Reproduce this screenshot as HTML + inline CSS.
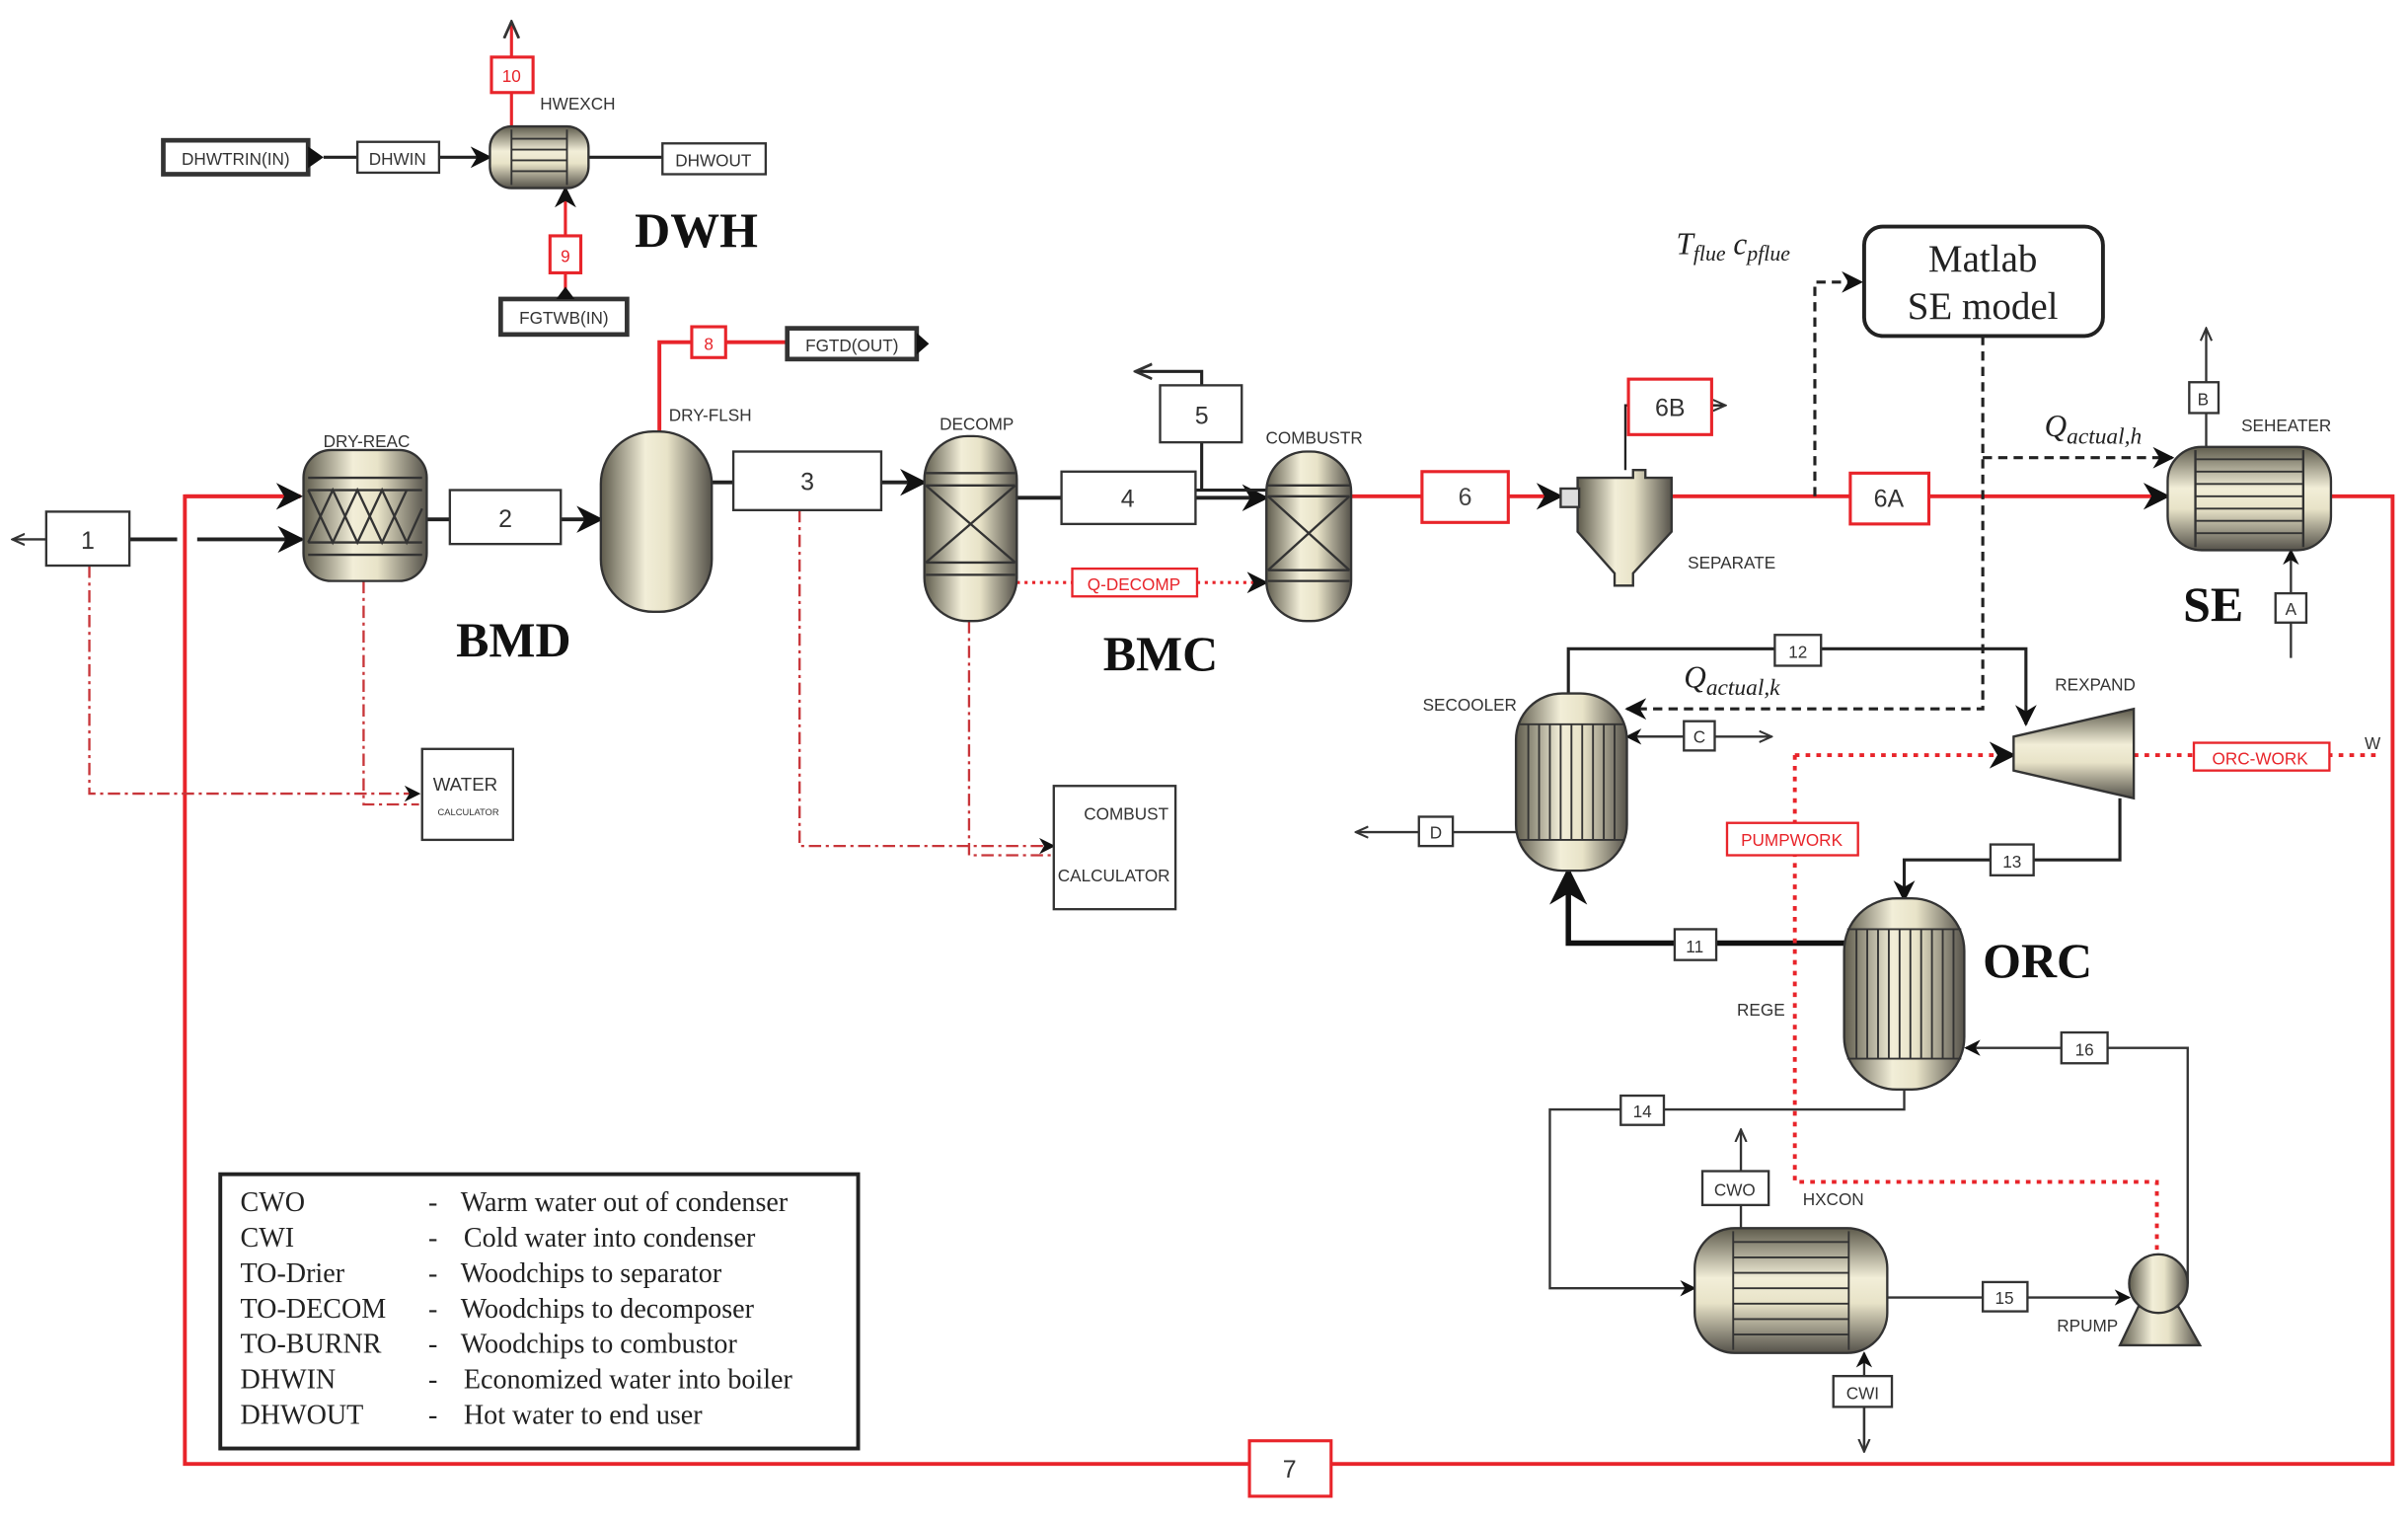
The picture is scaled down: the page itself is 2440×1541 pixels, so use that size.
<!DOCTYPE html>
<html><head><meta charset="utf-8"><style>
html,body{margin:0;padding:0;background:#fff;}
svg{display:block}
text{font-family:"Liberation Sans",sans-serif;}
.s, .s text{font-family:"Liberation Serif",serif;}
</style></head><body>
<svg width="2440" height="1541" viewBox="0 0 1563 987" xmlns="http://www.w3.org/2000/svg">
<defs>
<linearGradient id="gh" x1="0" x2="1" y1="0" y2="0"><stop offset="0" stop-color="#5e5b4c"/><stop offset="0.4" stop-color="#f2eed8"/><stop offset="0.6" stop-color="#e8e3c8"/><stop offset="1" stop-color="#55524a"/></linearGradient>
<linearGradient id="gv" x1="0" x2="0" y1="0" y2="1"><stop offset="0" stop-color="#5e5b4c"/><stop offset="0.4" stop-color="#f2eed8"/><stop offset="0.6" stop-color="#e8e3c8"/><stop offset="1" stop-color="#55524a"/></linearGradient>
<marker id="a" viewBox="0 0 10 10" refX="9" refY="5" markerWidth="7" markerHeight="7" orient="auto"><path d="M0,0L10,5L0,10L3,5z" fill="#111"/></marker>
<marker id="o" viewBox="0 0 10 10" refX="9" refY="5" markerWidth="6" markerHeight="6" orient="auto"><path d="M0,1L9,5L0,9" fill="none" stroke="#333" stroke-width="1.5"/></marker>
</defs>
<g fill="none" stroke-width="2">
<path d="M195,322H120V950H1553V322H1513" stroke="#e8242a" stroke-width="2.5"/>
<path d="M120,322H195" stroke="#e8242a" stroke-width="2.5" marker-end="url(#a)"/>
<path d="M877,322H1013" stroke="#e8242a" stroke-width="2.5" marker-end="url(#a)"/>
<path d="M1085,322H1407" stroke="#e8242a" stroke-width="2.5" marker-end="url(#a)"/>
<path d="M30,350H8" stroke="#333" stroke-width="1.5" marker-end="url(#o)"/>
<path d="M84,350H115M128,350H196" stroke="#222" stroke-width="2.5" marker-end="url(#a)"/>
<path d="M277,337H390" stroke="#222" stroke-width="2.5" marker-end="url(#a)"/>
<path d="M462,313H600" stroke="#222" stroke-width="2.5" marker-end="url(#a)"/>
<path d="M660,323H822" stroke="#222" stroke-width="2.5" marker-end="url(#a)"/>
<path d="M776,318H822M780,318V241H737" stroke="#222" stroke-width="2" marker-end="url(#o)"/>
<path d="M428,282V222H511" stroke="#e8242a" stroke-width="2.5"/>
<path d="M660,378H696M777,378H822" stroke="#e8242a" stroke-width="2" stroke-dasharray="2,3" marker-end="url(#a)"/>
<g stroke="#c8363a" stroke-width="1.5" stroke-dasharray="8,3,2,3">
<path d="M58,367V515H272" marker-end="url(#a)"/>
<path d="M236,377V522H272"/>
<path d="M519,331V549H684" marker-end="url(#a)"/>
<path d="M629,403V555H684"/>
</g>
<path d="M1055,305V263H1057M1111,263H1120" stroke="#222" stroke-width="1.5" marker-end="url(#o)"/>
<g stroke="#222" stroke-width="2" stroke-dasharray="6,4">
<path d="M1178,322V183H1208" marker-end="url(#a)"/>
<path d="M1287,218V460H1056" marker-end="url(#a)"/>
<path d="M1287,297H1410" marker-end="url(#a)"/>
</g>
<path d="M1432,290V213" stroke="#333" stroke-width="1.5" marker-end="url(#o)"/>
<path d="M1487,427V357" stroke="#333" stroke-width="1.5" marker-end="url(#a)"/>
<path d="M1018,452V421H1315V470" stroke="#222" stroke-width="2" marker-end="url(#a)"/>
<path d="M1056,478H1150" stroke="#333" stroke-width="1.5" marker-end="url(#o)"/>
<path d="M1093,478H1056" stroke="#333" stroke-width="1.5" marker-end="url(#a)"/>
<path d="M984,540H880" stroke="#333" stroke-width="1.5" marker-end="url(#o)"/>
<path d="M1376,518V558H1236V584" stroke="#222" stroke-width="2" marker-end="url(#a)"/>
<path d="M1197,612H1018V565" stroke="#111" stroke-width="3.5" marker-end="url(#a)"/>
<path d="M1420,833V680H1276" stroke="#333" stroke-width="1.5" marker-end="url(#a)"/>
<path d="M1236,707V720H1006V836H1100" stroke="#333" stroke-width="1.5" marker-end="url(#a)"/>
<path d="M1130,797V733" stroke="#333" stroke-width="1.5" marker-end="url(#o)"/>
<path d="M1210,942V878" stroke="#333" stroke-width="1.5" marker-end="url(#a)"/>
<path d="M1210,913V942" stroke="#333" stroke-width="1.5" marker-end="url(#o)"/>
<path d="M1225,842H1382" stroke="#333" stroke-width="1.5" marker-end="url(#a)"/>
<g stroke="#e8242a" stroke-width="2.5" stroke-dasharray="3,4">
<path d="M1165,490H1307" marker-end="url(#a)"/>
<path d="M1385,490H1545"/>
<path d="M1165,490V767H1400V815"/>
</g>
<path d="M210,102H232M285,102H318" stroke="#222" stroke-width="2" marker-end="url(#a)"/>
<path d="M382,102H430" stroke="#222" stroke-width="2"/>
<path d="M332,82V14" stroke="#e8242a" stroke-width="2" marker-end="url(#o)"/>
<path d="M367,190V122" stroke="#e8242a" stroke-width="2" marker-end="url(#a)"/>
</g>

<g stroke="#333" stroke-width="1.5">
<rect x="197" y="292" width="80" height="85" rx="18" fill="url(#gh)"/>
<path d="M200,310H274M200,318H274M200,352H274M200,360H274" fill="none"/>
<path d="M200,318L216,352L232,318L248,352L264,318M200,352L216,318L232,352L248,318L264,352L274,330" fill="none"/>
<rect x="390" y="280" width="72" height="117" rx="34" fill="url(#gh)"/>
<rect x="600" y="283" width="60" height="120" rx="28" fill="url(#gh)"/>
<path d="M601,307H659M601,315H659M601,365H659M601,373H659M601,315L659,365M659,315L601,365" fill="none"/>
<rect x="822" y="293" width="55" height="110" rx="26" fill="url(#gh)"/>
<path d="M823,315H876M823,322H876M823,370H876M823,377H876M823,322L876,370M876,322L823,370" fill="none"/>
<path d="M1024,310H1060V305H1068V310H1085V345L1060,372V380H1048V372L1024,345Z" fill="url(#gh)"/>
<rect x="1013" y="317" width="12" height="12" fill="#ddd"/>
<rect x="1407" y="290" width="106" height="67" rx="22" fill="url(#gv)"/>
<path d="M1425,292V355M1495,292V355" fill="none"/>
<path d="M1425,298H1495M1425,306H1495M1425,314H1495M1425,322H1495M1425,330H1495M1425,338H1495M1425,346H1495" fill="none" stroke-width="1.2"/>
<rect x="318" y="82" width="64" height="40" rx="14" fill="url(#gv)"/>
<path d="M332,84V120M368,84V120M332,90H368M332,97H368M332,104H368M332,111H368" fill="none" stroke-width="1.2"/>
<rect x="984" y="450" width="72" height="115" rx="30" fill="url(#gh)"/>
<path d="M986,470H1054M986,545H1054M992,470V545M999,470V545M1006,470V545M1013,470V545M1020,470V545M1027,470V545M1034,470V545M1041,470V545M1048,470V545" fill="none" stroke-width="1.2"/>
<rect x="1197" y="583" width="78" height="124" rx="34" fill="url(#gh)"/>
<path d="M1199,603H1273M1199,687H1273M1205,603V687M1212,603V687M1219,603V687M1226,603V687M1233,603V687M1240,603V687M1247,603V687M1254,603V687M1261,603V687M1268,603V687" fill="none" stroke-width="1.2"/>
<path d="M1307,478L1385,460V518L1307,500Z" fill="url(#gv)"/>
<rect x="1100" y="797" width="125" height="81" rx="26" fill="url(#gv)"/>
<path d="M1125,799V876M1200,799V876M1125,806H1200M1125,816H1200M1125,826H1200M1125,836H1200M1125,846H1200M1125,856H1200M1125,866H1200" fill="none" stroke-width="1.2"/>
<path d="M1388,848L1376,873H1428L1414,848Z" fill="url(#gh)"/>
<circle cx="1401" cy="833" r="19" fill="url(#gh)"/>
</g>

<g fill="#fff" stroke="#333" stroke-width="1.5">
<rect x="30" y="332" width="54" height="35"/>
<rect x="292" y="318" width="72" height="35"/>
<rect x="476" y="293" width="96" height="38"/>
<rect x="689" y="306" width="87" height="34"/>
<rect x="753" y="250" width="53" height="37"/>
<rect x="1421" y="248" width="19" height="20"/>
<rect x="1477" y="385" width="20" height="19"/>
<rect x="1152" y="412" width="30" height="20"/>
<rect x="1093" y="468" width="20" height="19"/>
<rect x="921" y="530" width="22" height="19"/>
<rect x="1292" y="548" width="28" height="20"/>
<rect x="1087" y="603" width="27" height="20"/>
<rect x="1338" y="670" width="30" height="20"/>
<rect x="1052" y="711" width="28" height="19"/>
<rect x="1105" y="760" width="43" height="22"/>
<rect x="1190" y="893" width="38" height="20"/>
<rect x="1287" y="832" width="29" height="19"/>
<rect x="274" y="486" width="59" height="59"/>
<rect x="684" y="510" width="79" height="80"/>
<rect x="232" y="92" width="53" height="20"/>
<rect x="430" y="93" width="67" height="20"/>
<rect x="106" y="91" width="94" height="22" stroke-width="3"/>
<rect x="325" y="194" width="82" height="23" stroke-width="3"/>
<rect x="511" y="213" width="84" height="20" stroke-width="3"/>
<rect x="143" y="762" width="414" height="178" stroke="#222" stroke-width="2.5"/>
<rect x="1210" y="147" width="155" height="71" rx="12" stroke="#222" stroke-width="2.5"/>
</g>
<path d="M200,95L210,102L200,109Z M595,216L603,223L595,230Z M361,194L367,186L373,194Z" fill="#111"/>
<g fill="#fff" stroke="#e8242a" stroke-width="2">
<rect x="923" y="306" width="56" height="33"/>
<rect x="1201" y="307" width="51" height="33"/>
<rect x="1057" y="246" width="54" height="36"/>
<rect x="811" y="935" width="53" height="36"/>
<rect x="449" y="212" width="22" height="20"/>
<rect x="319" y="37" width="27" height="23"/>
<rect x="357" y="153" width="20" height="24"/>
<rect x="696" y="369" width="81" height="18" stroke-width="1.5"/>
<rect x="1121" y="534" width="85" height="21" stroke-width="1.5"/>
<rect x="1424" y="482" width="88" height="18" stroke-width="1.5"/>
</g>

<g font-size="16" fill="#333" text-anchor="middle">
<text x="57" y="356">1</text><text x="328" y="342">2</text><text x="524" y="318">3</text>
<text x="732" y="329">4</text><text x="780" y="275">5</text>
<text x="951" y="328" fill="#444">6</text><text x="1226" y="329">6A</text><text x="1084" y="270">6B</text>
<text x="837" y="959">7</text>
</g>
<g font-size="11" fill="#333" text-anchor="middle">
<text x="1430" y="263">B</text><text x="1487" y="399">A</text><text x="1167" y="427">12</text>
<text x="1103" y="482">C</text><text x="932" y="544">D</text><text x="1306" y="563">13</text>
<text x="1100" y="618">11</text><text x="1353" y="685">16</text><text x="1066" y="725">14</text>
<text x="1126" y="776">CWO</text><text x="1209" y="908">CWI</text><text x="1301" y="846">15</text>
<text x="258" y="107">DHWIN</text><text x="463" y="108">DHWOUT</text>
<text x="153" y="107">DHWTRIN(IN)</text><text x="366" y="210">FGTWB(IN)</text><text x="553" y="228">FGTD(OUT)</text>
<text x="302" y="513" font-size="12">WATER</text><text x="304" y="529" font-size="6" font-family="Liberation Serif">CALCULATOR</text>
<text x="731" y="532">COMBUST</text><text x="723" y="572">CALCULATOR</text>
<text x="238" y="290">DRY-REAC</text><text x="461" y="273">DRY-FLSH</text><text x="634" y="279">DECOMP</text>
<text x="853" y="288">COMBUSTR</text><text x="1124" y="369">SEPARATE</text><text x="1484" y="280">SEHEATER</text>
<text x="375" y="71">HWEXCH</text><text x="954" y="461">SECOOLER</text><text x="1360" y="448">REXPAND</text>
<text x="1143" y="659">REGE</text><text x="1190" y="782">HXCON</text><text x="1355" y="864">RPUMP</text>
<text x="1540" y="486">W</text>
</g>
<g font-size="11" fill="#e8242a" text-anchor="middle">
<text x="460" y="227">8</text><text x="332" y="53">10</text><text x="367" y="170">9</text>
<text x="736" y="383">Q-DECOMP</text><text x="1163" y="549">PUMPWORK</text><text x="1467" y="496">ORC-WORK</text>
</g>
<g class="s" font-weight="bold" font-size="32" fill="#111">
<text x="412" y="160">DWH</text><text x="296" y="426">BMD</text><text x="716" y="435">BMC</text>
<text x="1417" y="403">SE</text><text x="1287" y="634">ORC</text>
</g>
<g class="s" fill="#222">
<text x="1287" y="176" font-size="25" text-anchor="middle">Matlab</text>
<text x="1287" y="207" font-size="25" text-anchor="middle">SE model</text>
<text x="1088" y="165" font-size="20" font-style="italic">T<tspan font-size="14" dy="4">flue</tspan><tspan dy="-4"> c</tspan><tspan font-size="14" dy="4">pflue</tspan></text>
<text x="1327" y="283" font-size="20" font-style="italic">Q<tspan font-size="15" dy="5">actual,h</tspan></text>
<text x="1093" y="446" font-size="20" font-style="italic">Q<tspan font-size="15" dy="5">actual,k</tspan></text>
</g>
<g class="s" font-size="18" fill="#222">
<text x="156" y="786">CWO</text><text x="278" y="786">-</text><text x="299" y="786">Warm water out of condenser</text>
<text x="156" y="809">CWI</text><text x="278" y="809">-</text><text x="301" y="809">Cold water into condenser</text>
<text x="156" y="832">TO-Drier</text><text x="278" y="832">-</text><text x="299" y="832">Woodchips to separator</text>
<text x="156" y="855">TO-DECOM</text><text x="278" y="855">-</text><text x="299" y="855">Woodchips to decomposer</text>
<text x="156" y="878">TO-BURNR</text><text x="278" y="878">-</text><text x="299" y="878">Woodchips to combustor</text>
<text x="156" y="901">DHWIN</text><text x="278" y="901">-</text><text x="301" y="901">Economized water into boiler</text>
<text x="156" y="924">DHWOUT</text><text x="278" y="924">-</text><text x="301" y="924">Hot water to end user</text>
</g>
</svg>
</body></html>
